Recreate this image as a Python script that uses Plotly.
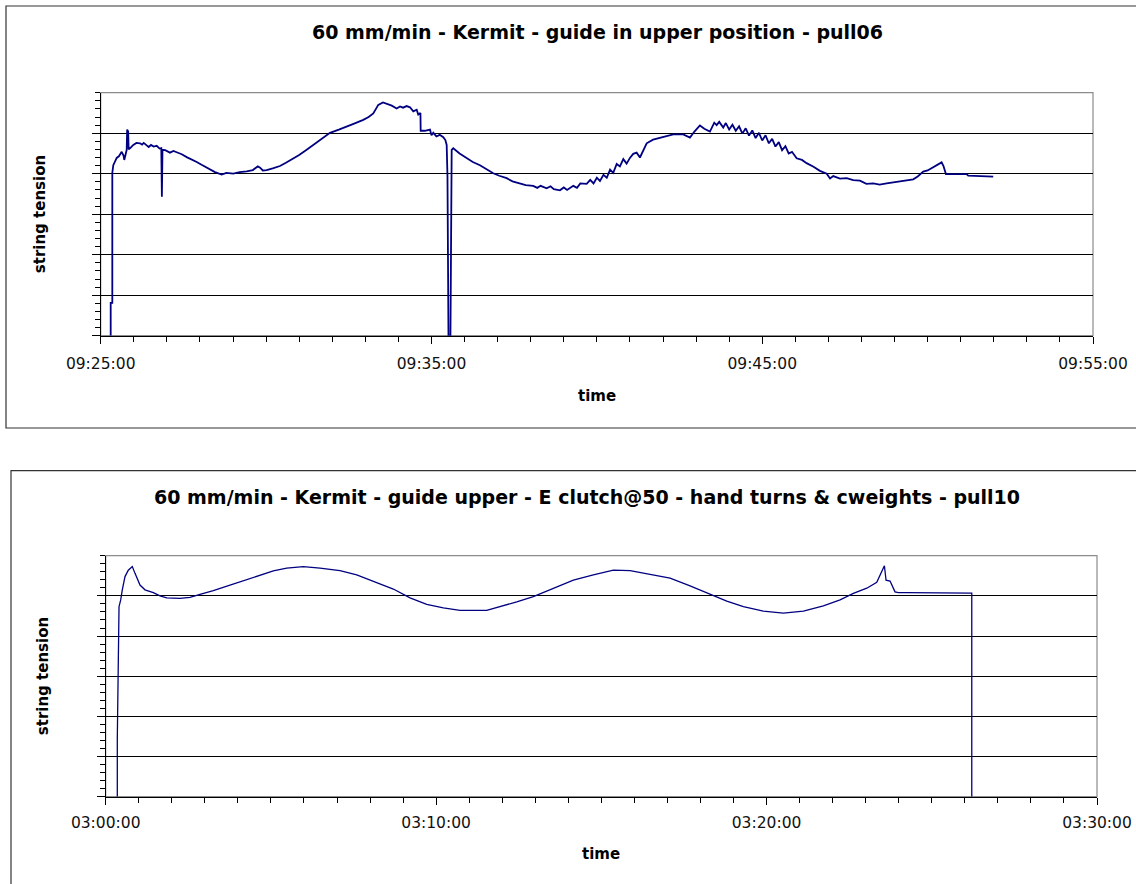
import pandas as pd
import plotly.graph_objects as go

# ---- pull06: minutes after 09:25:00 and string tension readings ----
pull06_minutes = [
    0.302, 0.302, 0.351, 0.351, 0.381, 0.43, 0.484, 0.55, 0.635, 0.69, 0.713, 0.786, 0.80, 0.83,
    0.845, 0.90, 0.985, 1.08, 1.188, 1.25, 1.30, 1.391, 1.45, 1.52, 1.60, 1.693, 1.78, 1.832,
    1.840, 1.850, 1.868, 1.95, 2.095, 2.2, 2.297, 2.45, 2.600, 2.75, 2.902, 3.05, 3.204, 3.33,
    3.455, 3.658, 3.8, 4.009, 4.2, 4.414, 4.6, 4.75, 4.82, 4.9, 5.018, 5.2, 5.420, 5.6, 5.822,
    6.0, 6.227, 6.45, 6.629, 6.8, 6.932, 7.2, 7.437, 7.7, 7.938, 8.1, 8.241, 8.392, 8.534, 8.685,
    8.80, 8.948, 9.05, 9.14, 9.25, 9.350, 9.45, 9.553, 9.60, 9.667, 9.674, 9.8, 9.955, 10.0,
    10.055, 10.15, 10.25, 10.357, 10.42, 10.460, 10.484, 10.514, 10.574, 10.611, 10.659, 10.85,
    11.064, 11.25, 11.466, 11.65, 11.868, 12.05, 12.273, 12.45, 12.675, 12.85, 13.077, 13.2,
    13.3, 13.483, 13.6, 13.7, 13.885, 14.0, 14.1, 14.287, 14.4, 14.5, 14.692, 14.8, 14.9, 15.0,
    15.094, 15.2, 15.3, 15.4, 15.496, 15.6, 15.698, 15.8, 15.9, 16.000, 16.1, 16.203, 16.303,
    16.4, 16.506, 16.7, 16.908, 17.1, 17.310, 17.612, 17.814, 17.95, 18.116, 18.25, 18.419,
    18.55, 18.622, 18.7, 18.821, 18.9, 19.0, 19.1, 19.2, 19.3, 19.4, 19.5, 19.6, 19.7, 19.8,
    19.9, 20.0, 20.1, 20.2, 20.3, 20.4, 20.5, 20.6, 20.7, 20.8, 20.9, 21.040, 21.2, 21.342,
    21.55, 21.745, 21.95, 22.05, 22.147, 22.35, 22.552, 22.75, 22.954, 23.15, 23.356, 23.55,
    23.761, 23.95, 24.163, 24.35, 24.565, 24.7, 24.867, 25.0, 25.169, 25.3, 25.423, 25.48,
    25.553, 26.179, 26.228, 26.983,
]
pull06_tension = [
    0, 8.1, 8.1, 40.2, 42.1, 43.2, 43.9, 44.3, 45.4, 44.5, 43.4, 45.9, 50.9, 50.4,
    46.0, 46.4, 47.1, 47.6, 47.5, 47.2, 47.6, 47.0, 46.6, 47.1, 46.7, 46.9, 46.2, 46.3,
    34.3, 34.3, 45.9, 45.8, 45.2, 45.6, 45.3, 44.8, 44.1, 43.6, 42.9, 42.2, 41.5, 40.9,
    40.4, 39.8, 40.2, 40.0, 40.4, 40.6, 40.9, 41.8, 41.5, 40.8, 40.9, 41.3, 41.9, 42.7, 43.7,
    44.6, 45.9, 47.2, 48.3, 49.4, 50.1, 50.9, 51.6, 52.5, 53.3, 54.0, 54.9, 57.0, 57.6, 57.1,
    56.8, 56.1, 56.6, 56.3, 56.7, 56.4, 55.4, 55.8, 54.6, 55.0, 50.6, 50.6, 50.9, 49.5,
    50.1, 49.2, 49.6, 49.0, 48.3, 47.1, 39.3, 0, 0, 45.9, 46.3, 45.0,
    43.8, 42.9, 42.1, 41.1, 40.1, 39.5, 38.9, 38.1, 37.6, 37.2, 37.0, 36.5,
    37.0, 36.4, 36.9, 36.2, 35.9, 36.6, 36.0, 37.0, 36.5, 37.6, 37.5, 38.5, 37.6, 39.0,
    38.2, 39.7, 39.0, 41.0, 40.2, 42.4, 41.8, 43.6, 42.5, 43.9, 44.9, 45.2, 44.0,
    45.6, 47.5, 48.4, 48.9, 49.3, 49.7, 49.7, 48.9, 50.4, 51.9, 51.1, 50.4,
    52.6, 52.0, 52.8, 51.4, 52.5, 50.9, 52.1, 50.6, 51.7, 49.9, 51.2, 49.4, 50.7, 48.8,
    50.1, 48.2, 49.5, 47.5, 48.6, 46.7, 47.8, 45.8, 46.8, 45.0, 45.4, 43.8, 43.4, 42.6,
    41.7, 40.7, 40.0, 38.8, 39.4, 38.8, 38.9, 38.4, 38.3, 37.5, 37.6, 37.3,
    37.6, 37.8, 38.0, 38.2, 38.6, 39.3, 40.5, 40.8, 41.6, 42.1, 42.8, 41.9,
    39.9, 39.9, 39.5, 39.3,
]

# ---- pull10: minutes after 03:00:00 and string tension readings ----
pull10_minutes = [
    0.351, 0.351, 0.403, 0.454, 0.502, 0.584, 0.684, 0.805, 0.887, 1.038, 1.189, 1.441, 1.643,
    1.846, 2.249, 2.551, 2.854, 3.257, 3.762, 4.268, 4.670, 5.073, 5.478, 5.981, 6.486, 7.091,
    7.597, 8.099, 8.705, 9.210, 9.715, 10.218, 10.723, 11.531, 11.934, 12.440, 12.942, 13.547,
    14.153, 14.758, 15.363, 15.869, 16.474, 17.080, 17.685, 18.290, 18.796, 19.298, 19.903,
    20.508, 21.114, 21.719, 22.225, 22.627, 23.033, 23.335, 23.487, 23.566, 23.616, 23.737,
    23.888, 23.99, 24.24, 26.21, 26.21,
]
pull10_tension = [
    0, 14.5, 47.3, 49.0, 51.5, 54.8, 56.4, 57.3, 55.6, 52.7, 51.5, 50.8, 50.0,
    49.5, 49.4, 49.6, 50.4, 51.3, 52.7, 54.1, 55.2, 56.2, 56.9, 57.3, 56.9, 56.3,
    55.2, 53.7, 51.7, 49.5, 47.9, 47.0, 46.4, 46.4, 47.3, 48.5, 49.8, 51.9,
    53.9, 55.2, 56.4, 56.3, 55.4, 54.4, 52.5, 50.4, 48.7, 47.3, 46.2,
    45.7, 46.2, 47.5, 49.0, 50.6, 51.9, 53.4, 56.0, 57.5, 53.9, 53.7,
    51.0, 50.8, 50.8, 50.7, 0,
]

pull06_start = "2000-01-01 09:25:00"
pull10_start = "2000-01-01 03:00:00"
pull06_title = "60 mm/min - Kermit - guide in upper position - pull06"
pull10_title = "60 mm/min - Kermit - guide upper - E clutch@50 - hand turns & cweights - pull10"
y_title = "string tension"
x_title = "time"


def stamps(start, minutes):
    return pd.Timestamp(start) + pd.to_timedelta(minutes, unit="min")


W, H = 1136, 884
FONT = "DejaVu Sans"
LINE = "#000080"


def px_x(v):
    return v / W


def px_y(v):
    return 1 - v / H


fig = go.Figure()
fig.add_trace(go.Scatter(
    x=stamps(pull06_start, pull06_minutes), y=pull06_tension, mode="lines",
    line=dict(color=LINE, width=1.8), xaxis="x", yaxis="y", showlegend=False,
))
fig.add_trace(go.Scatter(
    x=stamps(pull10_start, pull10_minutes), y=pull10_tension, mode="lines",
    line=dict(color=LINE, width=1.3), xaxis="x2", yaxis="y2", showlegend=False,
))

# plot-area boxes (left, top, right, bottom) in pixels, label standoff, y-title x
boxes = [(100.7, 92.7, 1093.0, 335.7), (105.7, 555.7, 1097.0, 796.7)]
label_standoff = [7, 5]
xtitle_gap = [60, 57]
ytitle_x = [40, 43]
starts = [pull06_start, pull10_start]

axis_common = dict(showline=True, linecolor="black", linewidth=1.2, zeroline=False, automargin=False)
annotations = []
for i, ((l, t, r, b), st) in enumerate(zip(boxes, starts)):
    sx = "" if i == 0 else "2"
    t0 = pd.Timestamp(st)
    t1 = t0 + pd.Timedelta(minutes=30)
    fig.layout["xaxis" + sx] = dict(
        domain=[px_x(l), px_x(r)], anchor="y" + sx, type="date",
        range=[t0, t1], tickmode="linear", tick0=t0, dtick=600000,
        tickformat="%H:%M:%S", ticks="outside", ticklen=7, tickcolor="black",
        ticklabelstandoff=label_standoff[i],
        tickfont=dict(family=FONT, size=15.5, color="#111"), showgrid=False,
        minor=dict(ticks="outside", ticklen=5, tickcolor="black", dtick=60000, tick0=t0, showgrid=False),
        **axis_common,
    )
    fig.layout["yaxis" + sx] = dict(
        domain=[px_y(b), px_y(t)], anchor="x" + sx, range=[0, 60],
        tickmode="array", tickvals=[0, 10, 20, 30, 40, 50], showticklabels=False,
        ticks="outside", ticklen=8, tickcolor="black",
        showgrid=True, gridcolor="black", gridwidth=1.3,
        minor=dict(ticks="outside", ticklen=5, tickcolor="black", dtick=2, tick0=0, showgrid=False),
        **axis_common,
    )
    annotations.append(dict(
        text=x_title, x=px_x((l + r) / 2), y=px_y(b + xtitle_gap[i]), xref="paper", yref="paper",
        showarrow=False, xanchor="center", yanchor="middle",
        font=dict(family=FONT, size=15, color="black", weight="bold")))
    annotations.append(dict(
        text=y_title, x=px_x(ytitle_x[i]), y=px_y((t + b) / 2), xref="paper", yref="paper",
        showarrow=False, xanchor="center", yanchor="middle", textangle=-90,
        font=dict(family=FONT, size=15, color="black", weight="bold")))

shapes = []
# gray border on the plot areas (top and right edges show)
for l, t, r, b in boxes:
    shapes.append(dict(type="rect", xref="paper", yref="paper", layer="below",
                       x0=px_x(l), x1=px_x(r), y0=px_y(b), y1=px_y(t),
                       line=dict(color="#8c8c8c", width=1.2)))
# chart frames
shapes.append(dict(type="rect", xref="paper", yref="paper",
                   x0=px_x(6), x1=px_x(1160), y0=px_y(428), y1=px_y(6),
                   line=dict(color="#333", width=1.2)))
shapes.append(dict(type="rect", xref="paper", yref="paper",
                   x0=px_x(11), x1=px_x(1160), y0=px_y(910), y1=px_y(470.7),
                   line=dict(color="#333", width=1.2)))

annotations += [
    dict(text=pull06_title, x=px_x(597), y=px_y(32), xref="paper", yref="paper",
         showarrow=False, xanchor="center", yanchor="middle",
         font=dict(family=FONT, size=19, color="black", weight="bold")),
    dict(text=pull10_title, x=px_x(586.5), y=px_y(497), xref="paper", yref="paper",
         showarrow=False, xanchor="center", yanchor="middle",
         font=dict(family=FONT, size=19, color="black", weight="bold")),
]

fig.update_layout(
    template="none",
    width=W, height=H, margin=dict(l=0, r=0, t=0, b=0),
    paper_bgcolor="white", plot_bgcolor="white",
    shapes=shapes, annotations=annotations, showlegend=False,
)

fig.write_html("out.html")
